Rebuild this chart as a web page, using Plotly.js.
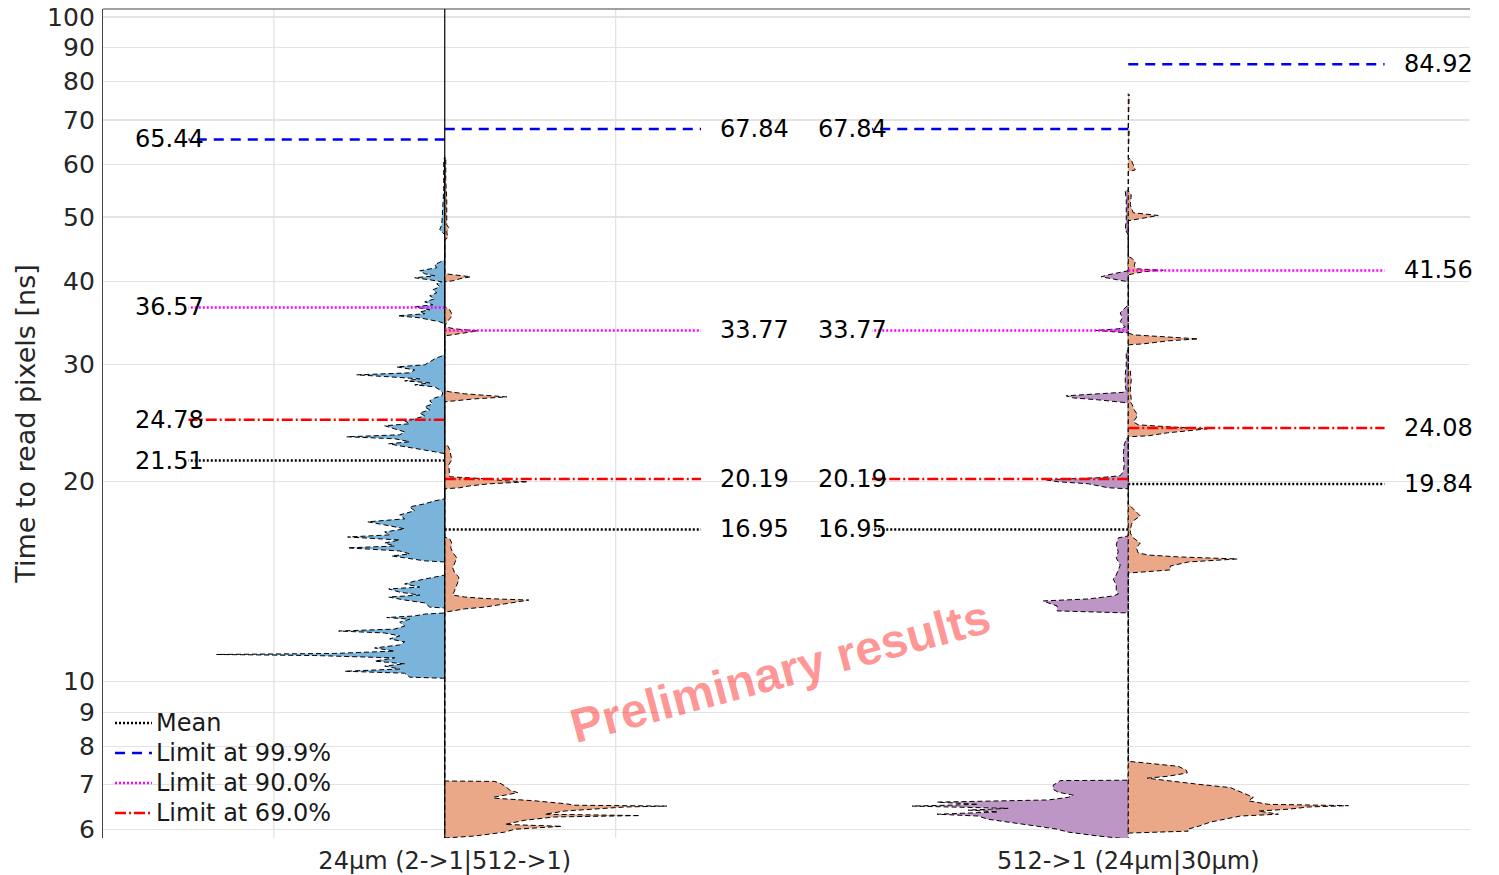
<!DOCTYPE html>
<html>
<head>
<meta charset="utf-8">
<script src="https://cdn.plot.ly/plotly-3.0.1.min.js"></script>
<style>html,body{margin:0;padding:0;background:#fff;}#chart{width:1499px;height:875px;}</style>
</head>
<body>
<div id="chart"></div>
<script>
// ---- Data ----
const categories = ['24µm (2->1|512->1)', '512->1 (24µm|30µm)'];
const yTickValues = [6, 7, 8, 9, 10, 20, 30, 40, 50, 60, 70, 80, 90, 100];

// Half-violin profiles: time [ns] (bottom -> top) and density (relative width)
const blueY = [
  10.12,10.16,10.30,10.37,10.45,10.56,10.64,10.74,10.86,10.95,10.99,11.03,11.12,11.24,11.36,11.48,11.60,11.72,11.84,11.92,12.00,12.13,12.29,12.42,12.49,12.56,12.64,12.69,
  12.91,12.95,13.14,13.27,13.41,13.50,13.64,13.79,13.88,14.03,14.17,14.32,14.42,14.47,
  15.14,15.20,15.36,15.46,15.57,15.73,15.90,16.00,16.17,16.34,16.51,16.63,16.80,16.98,17.16,17.40,17.58,17.82,18.08,18.32,18.52,18.71,18.84,
  22.03,22.18,22.41,22.64,22.80,22.96,23.20,23.36,23.52,23.76,24.01,24.27,24.44,24.68,24.86,25.11,25.37,25.64,25.91,26.18,26.46,26.73,26.92,27.20,27.48,27.77,27.96,28.16,28.35,28.55,28.75,28.95,29.15,29.45,29.76,29.97,30.28,30.60,30.91,31.13,
  34.55,34.79,35.03,35.27,35.52,35.77,36.01,36.26,36.64,36.90,37.28,37.67,38.07,38.47,38.86,39.27,39.69,39.96,40.24,40.52,40.80,41.09,41.52,41.95,42.39,42.83,43.13,
  47.03,47.85,48.69,53.09,54.95,60.97,61.6
];
const blueDensity = [
  0,35,40,100,45,60,40,70,50,130,228,110,50,70,45,40,55,45,60,106,50,40,45,35,58,30,20,0,
  0,15,20,40,56,25,45,56,25,40,30,15,5,0,
  0,20,40,53,35,45,97,50,60,45,97,55,60,40,55,77,40,45,30,35,20,10,0,
  0,10,30,45,56,35,50,98,45,40,50,60,35,40,30,20,25,15,20,12,15,10,3,2,5,10,30,15,40,25,55,88,35,30,48,20,15,10,3,0,
  0,5,15,25,47,20,25,15,30,12,20,10,15,8,12,5,8,3,15,30,10,20,25,8,10,3,0,
  0,5,3,2,1,1,0
];

const orangeAY = [
  5.82,5.86,5.94,6.00,6.06,6.10,6.19,6.26,6.29,6.32,6.39,6.43,6.48,6.50,6.52,6.55,6.62,6.68,6.70,6.75,6.81,6.87,6.97,7.04,7.08,7.09,
  12.73,12.78,12.87,12.95,13.09,13.18,13.27,13.34,13.41,13.50,13.74,13.98,14.22,14.37,14.57,14.83,15.09,15.36,15.65,15.90,16.17,16.40,16.51,
  19.51,19.58,19.71,19.85,19.99,20.06,20.20,20.34,21.20,21.57,21.95,22.33,22.64,22.80,
  26.37,26.46,26.64,26.82,26.96,27.11,27.30,27.39,
  33.13,33.25,33.48,33.71,33.95,34.18,34.79,35.27,35.77,36.26,36.64,
  39.96,40.10,40.38,40.66,40.94,41.09,
  46.22,46.54,47.52,48.19,48.69,53.09,56.89,60.97,61.6
];
const orangeADensity = [
  0,30,60,70,117,60,80,110,195,100,120,150,180,222,130,122,90,50,48,60,73,65,60,55,50,0,
  0,8,20,40,60,70,84,40,20,8,10,12,14,14,10,8,10,12,8,6,7,5,0,
  0,15,25,45,83,60,40,5,4,7,6,5,3,0,
  0,10,30,62,40,20,5,0,
  0,8,20,33,10,0,2,6,7,5,0,
  0,8,15,26,10,0,
  0,3,2,4,2,2,1,1,0
];

const purpleY = [
  5.80,5.86,5.94,6.00,6.06,6.15,6.21,6.28,6.32,6.37,6.41,6.45,6.50,6.54,6.59,6.64,6.70,6.75,6.82,6.89,6.99,7.06,7.10,7.11,
  12.69,12.78,13.00,13.14,13.23,13.32,13.46,13.55,13.74,13.98,14.27,14.47,14.73,14.98,15.36,15.68,16.06,16.46,16.57,
  19.51,19.58,19.71,19.85,19.99,20.13,20.27,20.41,20.70,21.20,21.95,22.72,23.20,23.28,
  26.27,26.37,26.55,26.73,26.92,27.11,27.25,27.39,27.96,28.95,29.97,31.35,31.57,
  33.48,33.60,33.77,33.95,34.18,34.79,35.27,35.89,36.52,36.90,
  39.96,40.10,40.38,40.66,40.94,41.23,41.52,
  47.03,47.85,49.54,53.09,54.76,54.95
];
const purpleDensity = [
  0,30,60,71,90,121,140,150,191,130,160,120,216,150,191,80,60,55,70,75,75,70,68,0,
  0,71,71,80,85,40,15,10,12,12,15,12,10,8,12,10,12,10,0,
  0,20,31,40,70,83,30,8,5,4,5,4,2,0,
  0,10,30,55,62,30,5,2,3,3,2,2,0,
  0,15,33,10,3,8,6,8,3,0,
  0,5,15,27,20,8,0,
  0,3,2,2,3,0
];

const orangeBY = [
  5.92,5.96,6.00,6.06,6.15,6.21,6.28,6.32,6.39,6.43,6.48,6.51,6.54,6.62,6.70,6.80,6.87,6.93,7.01,7.09,7.16,7.21,7.29,7.36,7.46,7.54,7.59,
  14.57,14.63,14.73,14.93,15.14,15.30,15.41,15.51,15.62,15.90,16.17,16.46,16.74,17.22,17.46,17.76,18.01,18.26,18.52,
  23.36,23.44,23.68,23.85,24.01,24.18,24.35,24.60,24.95,25.24,25.64,26.09,26.37,26.55,27.48,28.45,29.35,29.45,
  32.12,32.23,32.57,32.79,33.02,33.25,33.48,
  40.94,41.09,41.37,41.59,41.80,42.24,42.83,43.43,43.58,
  49.37,49.54,49.88,50.28,50.76,52.17,54.01,54.76,
  58.48,58.89,59.92,60.97,61.40,67.65,68.12,76.38,76.65
];
const orangeBDensity = [
  0,60,59,70,82,95,112,150,130,160,180,220,140,120,125,115,108,102,70,40,19,40,59,58,50,20,0,
  0,20,42,42,60,109,50,20,10,8,12,5,2,3,5,12,8,5,0,
  0,20,39,60,79,40,10,5,8,9,6,4,2,3,2,3,2,0,
  0,15,40,70,30,5,0,
  0,5,15,35,8,6,7,3,0,
  0,5,15,30,5,2,3,0,
  0,7,5,3,0,1,0,1,0
];

// Statistics per half: [cat0 left, cat0 right, cat1 left, cat1 right]
const meanValues   = [21.51, 16.95, 16.95, 19.84];
const limit999     = [65.44, 67.84, 67.84, 84.92];
const limit900     = [36.57, 33.77, 33.77, 41.56];
const limit690     = [24.78, 20.19, 20.19, 24.08];
const legendNames  = ['Mean', 'Limit at 99.9%', 'Limit at 90.0%', 'Limit at 69.0%'];
const watermark    = 'Preliminary results';

// ---- Styling / geometry ----
const FONT = 'DejaVu Sans, sans-serif';
const DENSITY_SCALE = 1 / 683;
const HALF_LINE = 0.375;
const halves = [
  {c: 0, s: -1, y: blueY,    d: blueDensity,    color: '#7ab4da'},
  {c: 0, s:  1, y: orangeAY, d: orangeADensity, color: '#eaa889'},
  {c: 1, s: -1, y: purpleY,  d: purpleDensity,  color: '#bd96c6'},
  {c: 1, s:  1, y: orangeBY, d: orangeBDensity, color: '#eaa889'}
];
const statSets = [
  {vals: meanValues, color: 'black',   dash: '2px,2px',          width: 2.5},
  {vals: limit999,   color: '#0000ee', dash: '10px,7px',         width: 2.5},
  {vals: limit900,   color: '#ff00ff', dash: '2px,2px',          width: 2.5},
  {vals: limit690,   color: '#ff0000', dash: '11px,3px,2px,3px', width: 2.5}
];

const traces = [];
halves.forEach(h => {
  const x = h.d.map(w => h.c + h.s * w * DENSITY_SCALE);
  const y = h.y.slice();
  x.push(h.c, h.c);
  y.push(h.y[h.y.length - 1], h.y[0]);
  traces.push({
    type: 'scatter', mode: 'lines', x: x, y: y, fill: 'toself',
    fillcolor: h.color, line: {color: 'black', width: 1, dash: '5px,3px'},
    hoverinfo: 'skip', showlegend: false
  });
});

const annotations = [];
const shapes = [
  {type: 'line', xref: 'x', yref: 'paper', x0: -0.25, x1: -0.25, y0: 0, y1: 1,
   line: {color: '#e3e3e3', width: 1.3}, layer: 'below'},
  {type: 'line', xref: 'x', yref: 'paper', x0: 0.25, x1: 0.25, y0: 0, y1: 1,
   line: {color: '#e3e3e3', width: 1.3}, layer: 'below'},
  {type: 'line', xref: 'paper', yref: 'paper', x0: 0, x1: 1, y0: 1, y1: 1,
   line: {color: '#444', width: 1.2}},
  {type: 'line', xref: 'x', yref: 'paper', x0: 0, x1: 0, y0: 0, y1: 1,
   line: {color: 'black', width: 1.2}}
];

statSets.forEach((st, k) => {
  halves.forEach((h, i) => {
    const v = st.vals[i];
    traces.push({
      type: 'scatter', mode: 'lines',
      x: [h.c, h.c + h.s * HALF_LINE], y: [v, v],
      line: {color: st.color, dash: st.dash, width: st.width},
      name: legendNames[k], showlegend: false, hoverinfo: 'skip'
    });
    annotations.push({
      x: h.s < 0 ? h.c - 0.35 : h.c + 0.40,
      y: Math.log10(v), xref: 'x', yref: 'y',
      text: v.toFixed(2), showarrow: false,
      xanchor: h.s < 0 ? 'right' : 'left', yanchor: 'middle',
      font: {family: FONT, size: 24, color: 'black'}
    });
  });
  // legend entry (drawn inside the plot, lower left)
  const ly = 0.1387 - k * 0.0362;
  shapes.push({type: 'line', xref: 'paper', yref: 'paper',
    x0: 0.0088, x1: 0.0358, y0: ly, y1: ly,
    line: {color: st.color, dash: st.dash, width: st.width}});
  annotations.push({x: 0.0373, y: ly, xref: 'paper', yref: 'paper',
    text: legendNames[k], showarrow: false, xanchor: 'left', yanchor: 'middle',
    font: {family: FONT, size: 24, color: '#1a1a1a'}});
});

annotations.push({
  x: 0.49, y: 1.016, xref: 'x', yref: 'y', text: '<b>' + watermark + '</b>',
  showarrow: false, textangle: -15,
  font: {family: 'Liberation Sans, Arial, sans-serif', size: 48, color: 'rgba(255,0,0,0.42)'}
});

const layout = {
  width: 1499, height: 875,
  margin: {l: 103, r: 29, t: 9, b: 37},
  paper_bgcolor: 'white', plot_bgcolor: 'white',
  font: {family: FONT, size: 24, color: '#262626'},
  showlegend: false,
  xaxis: {
    range: [-0.5, 1.5], tickvals: [0, 1], ticktext: categories,
    showgrid: false, zeroline: false, showline: false,
    ticks: 'outside', ticklen: 1, tickcolor: 'rgba(0,0,0,0)',
    tickfont: {family: FONT, size: 24, color: '#262626'}
  },
  yaxis: {
    type: 'log',
    range: [Math.log10(5.82), Math.log10(102.8)],
    tickvals: yTickValues, ticktext: yTickValues.map(String),
    showgrid: true, gridcolor: '#e3e3e3', gridwidth: 1.3,
    showline: true, linecolor: '#444', linewidth: 1.2,
    ticks: 'outside', ticklen: 2, tickcolor: 'rgba(0,0,0,0)',
    tickfont: {family: FONT, size: 25, color: '#262626'},
    title: {text: 'Time to read pixels [ns]', standoff: 3,
            font: {family: FONT, size: 27, color: '#262626'}}
  },
  shapes: shapes,
  annotations: annotations
};

Plotly.newPlot('chart', traces, layout, {displayModeBar: false, staticPlot: true});
</script>
</body>
</html>
